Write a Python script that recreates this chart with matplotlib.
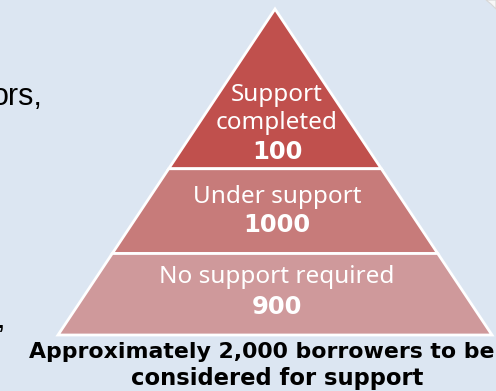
import matplotlib.pyplot as plt
from matplotlib.patches import Polygon

# data
labels = ["Support\ncompleted", "Under support", "No support required"]
counts = [100, 1000, 900]
colors = ["#C0504D", "#C77B7A", "#CF999B"]
caption_lines = ["Approximately 2,000 borrowers to be", "considered for support"]

W, H = 496, 391
fig = plt.figure(figsize=(W / 100, H / 100), dpi=100)
fig.patch.set_facecolor("#DCE6F2")
ax = fig.add_axes([0, 0, 1, 1])
ax.set_xlim(0, W)
ax.set_ylim(H, 0)
ax.axis("off")

# pyramid geometry (pixels)
apex_x, apex_y = 275, 9
base_y = 335
half_base = 217
cuts = [0.0, 0.49, 0.75, 1.0]   # band boundaries as fraction of height

for i in range(3):
    f0, f1 = cuts[i], cuts[i + 1]
    y0 = apex_y + f0 * (base_y - apex_y)
    y1 = apex_y + f1 * (base_y - apex_y)
    pts = [(apex_x - half_base * f0, y0), (apex_x + half_base * f0, y0),
           (apex_x + half_base * f1, y1), (apex_x - half_base * f1, y1)]
    ax.add_patch(Polygon(pts, closed=True, facecolor=colors[i],
                         edgecolor="white", linewidth=2, joinstyle="miter"))

# band labels
label_y = [(109, 152), (197, 225), (277, 307)]
for i in range(3):
    ly, cy = label_y[i]
    ax.text(apex_x + 2, ly, labels[i], ha="center", va="center", color="white",
            fontsize=17.5, family="Noto Sans", linespacing=1.2)
    ax.text(apex_x + 2, cy, str(counts[i]), ha="center", va="center",
            color="white", fontsize=17.5, fontweight="bold", family="DejaVu Sans")

# caption
ax.text(29, 352, caption_lines[0], ha="left", va="center", color="black",
        fontsize=15.8, fontweight="bold", family="DejaVu Sans")
ax.text(277, 378, caption_lines[1], ha="center", va="center", color="black",
        fontsize=16.3, fontweight="bold", family="DejaVu Sans")

# clipped text from neighbouring content
ax.text(43, 105, "ors,", ha="right", va="baseline", fontsize=22,
        family="Liberation Sans", color="black")
ax.text(5, 328, ",", ha="right", va="baseline", fontsize=22,
        family="Liberation Sans", color="black")

# curled corner of an adjacent shape
ax.add_patch(Polygon([(486, 0), (496, 0), (496, 9), (491, 4)], closed=True,
                     facecolor="#F7F7F7", edgecolor="#D8D8D8", linewidth=0.8))

fig.savefig("out.png", dpi=100, facecolor=fig.get_facecolor())
